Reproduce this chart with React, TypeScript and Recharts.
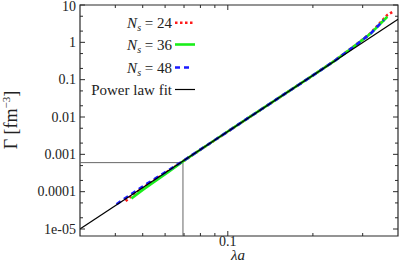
import React from 'react';
import { LineChart, Line, XAxis, YAxis, ReferenceLine, ReferenceArea } from 'recharts';

// ---- data ----
const NS24_X = [0.0435, 0.0452, 0.05, 0.06, 0.07, 0.09, 0.12, 0.15, 0.2, 0.24, 0.28, 0.32, 0.3667, 0.3875];
const NS24_Y = [5.6e-5, 7.2e-5, 1.25e-4, 3.15e-4, 6.8e-4, 2.4e-3, 0.0102, 0.031, 0.13, 0.33, 0.79, 1.76, 5.4, 6.9];

const NS36_X = [0.0456, 0.05, 0.055, 0.062, 0.07, 0.09, 0.12, 0.15, 0.2, 0.24, 0.28, 0.32, 0.3667];
const NS36_Y = [6.6e-5, 1.12e-4, 1.85e-4, 3.5e-4, 6.8e-4, 2.42e-3, 0.0102, 0.031, 0.13, 0.33, 0.78, 1.72, 4.85];

const NS48_X = [0.0404, 0.044, 0.048, 0.052, 0.058, 0.07, 0.09, 0.12, 0.15, 0.2, 0.24, 0.28, 0.32, 0.3564];
const NS48_Y = [4.6e-5, 7.2e-5, 1.12e-4, 1.66e-4, 2.8e-4, 6.9e-4, 2.42e-3, 0.0102, 0.031, 0.13, 0.33, 0.78, 1.72, 3.96];

const FIT_X = [0.03, 0.4];
const FIT_Y = [1.0e-5, 4.15];

const GUIDE_X = 0.0694;
const GUIDE_Y = 6.0e-4;

const X_DOMAIN = [0.03, 0.4];
const Y_DOMAIN = [6.5e-6, 10];

const X_TICKS = [0.04, 0.05, 0.06, 0.07, 0.08, 0.09, 0.1, 0.2, 0.3];
const X_MAJOR = [0.1];
const X_LABELS = ['0.1'];

const Y_TICKS = [1e-5, 2e-5, 5e-5, 1e-4, 2e-4, 5e-4, 1e-3, 2e-3, 5e-3, 0.01, 0.02, 0.05, 0.1, 0.2, 0.5, 1, 2, 5, 10];
const Y_MAJOR = [1e-5, 1e-4, 1e-3, 0.01, 0.1, 1, 10];
const Y_LABELS = ['1e-05', '0.0001', '0.001', '0.01', '0.1', '1', '10'];

const SERIES_NAMES = ['24', '36', '48'];

const zip = (xs: number[], ys: number[]) => xs.map((x, i) => ({ x, y: ys[i] }));

const ns24 = zip(NS24_X, NS24_Y);
const ns36 = zip(NS36_X, NS36_Y);
const ns48 = zip(NS48_X, NS48_Y);
const fit = zip(FIT_X, FIT_Y);

// ---- layout ----
const W = 399;
const H = 263;
const MARGIN = { top: 5, right: 1, bottom: 0, left: 0 };
const Y_AXIS_W = 80;
const X_AXIS_H = 27;
const PL = MARGIN.left + Y_AXIS_W;
const PR = W - MARGIN.right;
const PT = MARGIN.top;
const PB = H - X_AXIS_H - MARGIN.bottom;

const FONT = '"Liberation Serif", "DejaVu Serif", serif';
const TXT = { fontFamily: FONT };
const AXIS_COLOR = '#2a2a2a';

const STYLES = [
  { color: '#ff1a1a', dash: '2.5 2.5', width: 2.6 },
  { color: '#1aee1a', dash: undefined as string | undefined, width: 2.6 },
  { color: '#1a1aff', dash: '5 4', width: 2.6 },
];

const YTick = (props: any) => {
  const { y, payload } = props;
  const idx = Y_MAJOR.indexOf(payload.value);
  const major = idx >= 0;
  const len = major ? 5 : 3;
  return (
    <g>
      <line x1={PL} x2={PL + len} y1={y} y2={y} stroke={AXIS_COLOR} strokeWidth={1} />
      <line x1={PR - len} x2={PR} y1={y} y2={y} stroke={AXIS_COLOR} strokeWidth={1} />
      {major && (
        <text x={PL - 4} y={Math.max(y + 4.5, 11)} textAnchor="end" style={TXT} fontSize={14} fill="#222">
          {Y_LABELS[idx]}
        </text>
      )}
    </g>
  );
};

const XTick = (props: any) => {
  const { x, payload } = props;
  const idx = X_MAJOR.indexOf(payload.value);
  const major = idx >= 0;
  const len = major ? 5 : 3;
  return (
    <g>
      <line x1={x} x2={x} y1={PB} y2={PB - len} stroke={AXIS_COLOR} strokeWidth={1} />
      <line x1={x} x2={x} y1={PT} y2={PT + len} stroke={AXIS_COLOR} strokeWidth={1} />
      {major && (
        <text x={x} y={PB + 9.5} textAnchor="middle" style={TXT} fontSize={14} fill="#222">
          {X_LABELS[idx]}
        </text>
      )}
    </g>
  );
};

const LegendOverlay = () => {
  const rowY = [22.7, 44.5, 67.5, 89.5];
  const textRight = 172;
  const s0 = 175;
  const s1 = 195;
  return (
    <svg width={W} height={H} style={{ position: 'absolute', left: 0, top: 0, pointerEvents: 'none' }}>
      {SERIES_NAMES.map((n, i) => (
        <g key={n}>
          <text x={textRight} y={rowY[i] + 5} textAnchor="end" style={TXT} fontSize={15} fill="#222">
            <tspan fontStyle="italic">N</tspan>
            <tspan fontStyle="italic" fontSize={10} dy={3}>s</tspan>
            <tspan dy={-3}> = {n}</tspan>
          </text>
          <line x1={s0} x2={STYLES[i].dash === '5 4' ? 191 : s1} y1={rowY[i]} y2={rowY[i]} stroke={STYLES[i].color}
            strokeWidth={STYLES[i].width} strokeDasharray={STYLES[i].dash} />
        </g>
      ))}
      <text x={textRight} y={rowY[3] + 5} textAnchor="end" style={TXT} fontSize={15} fill="#222">
        Power law fit
      </text>
      <line x1={s0} x2={s1} y1={rowY[3]} y2={rowY[3]} stroke="#000" strokeWidth={1.2} />
      {/* axis titles */}
      <text x={238} y={259.5} textAnchor="middle" style={TXT} fontSize={15} fontStyle="italic" fill="#222">
        λa
      </text>
      <text transform="translate(17,120) rotate(-90)" textAnchor="middle" style={TXT} fontSize={18} fill="#222">
        Γ [fm<tspan fontSize={11} dy={-7}>−3</tspan><tspan dy={7}>]</tspan>
      </text>
    </svg>
  );
};

export default function App() {
  return (
    <div style={{ position: 'absolute', left: 0, top: 0, width: W, height: H, background: '#fff' }}>
      <LineChart width={W} height={H} margin={MARGIN}>
        <XAxis
          type="number"
          dataKey="x"
          scale="log"
          domain={X_DOMAIN}
          allowDataOverflow
          ticks={X_TICKS}
          interval={0}
          height={X_AXIS_H}
          axisLine={false}
          tickLine={false}
          tick={<XTick />}
        />
        <YAxis
          type="number"
          dataKey="y"
          scale="log"
          domain={Y_DOMAIN}
          allowDataOverflow
          ticks={Y_TICKS}
          interval={0}
          width={Y_AXIS_W}
          axisLine={false}
          tickLine={false}
          tick={<YTick />}
        />
        <ReferenceLine
          segment={[{ x: X_DOMAIN[0], y: GUIDE_Y }, { x: GUIDE_X, y: GUIDE_Y }]}
          stroke="#666"
          strokeWidth={1}
        />
        <ReferenceLine
          segment={[{ x: GUIDE_X, y: Y_DOMAIN[0] }, { x: GUIDE_X, y: GUIDE_Y }]}
          stroke="#666"
          strokeWidth={1}
        />
        <Line data={ns24} dataKey="y" stroke={STYLES[0].color} strokeWidth={STYLES[0].width}
          strokeDasharray={STYLES[0].dash} dot={false} isAnimationActive={false} />
        <Line data={ns36} dataKey="y" stroke={STYLES[1].color} strokeWidth={STYLES[1].width}
          dot={false} isAnimationActive={false} />
        <Line data={ns48} dataKey="y" stroke={STYLES[2].color} strokeWidth={STYLES[2].width}
          strokeDasharray={STYLES[2].dash} dot={false} isAnimationActive={false} />
        <Line data={fit} dataKey="y" stroke="#000" strokeWidth={1.1} dot={false} isAnimationActive={false} />
        <ReferenceArea x1={X_DOMAIN[0]} x2={X_DOMAIN[1]} y1={Y_DOMAIN[0]} y2={Y_DOMAIN[1]}
          fill="none" fillOpacity={0} stroke={AXIS_COLOR} strokeWidth={1.2} ifOverflow="visible" />
      </LineChart>
      <LegendOverlay />
    </div>
  );
}
